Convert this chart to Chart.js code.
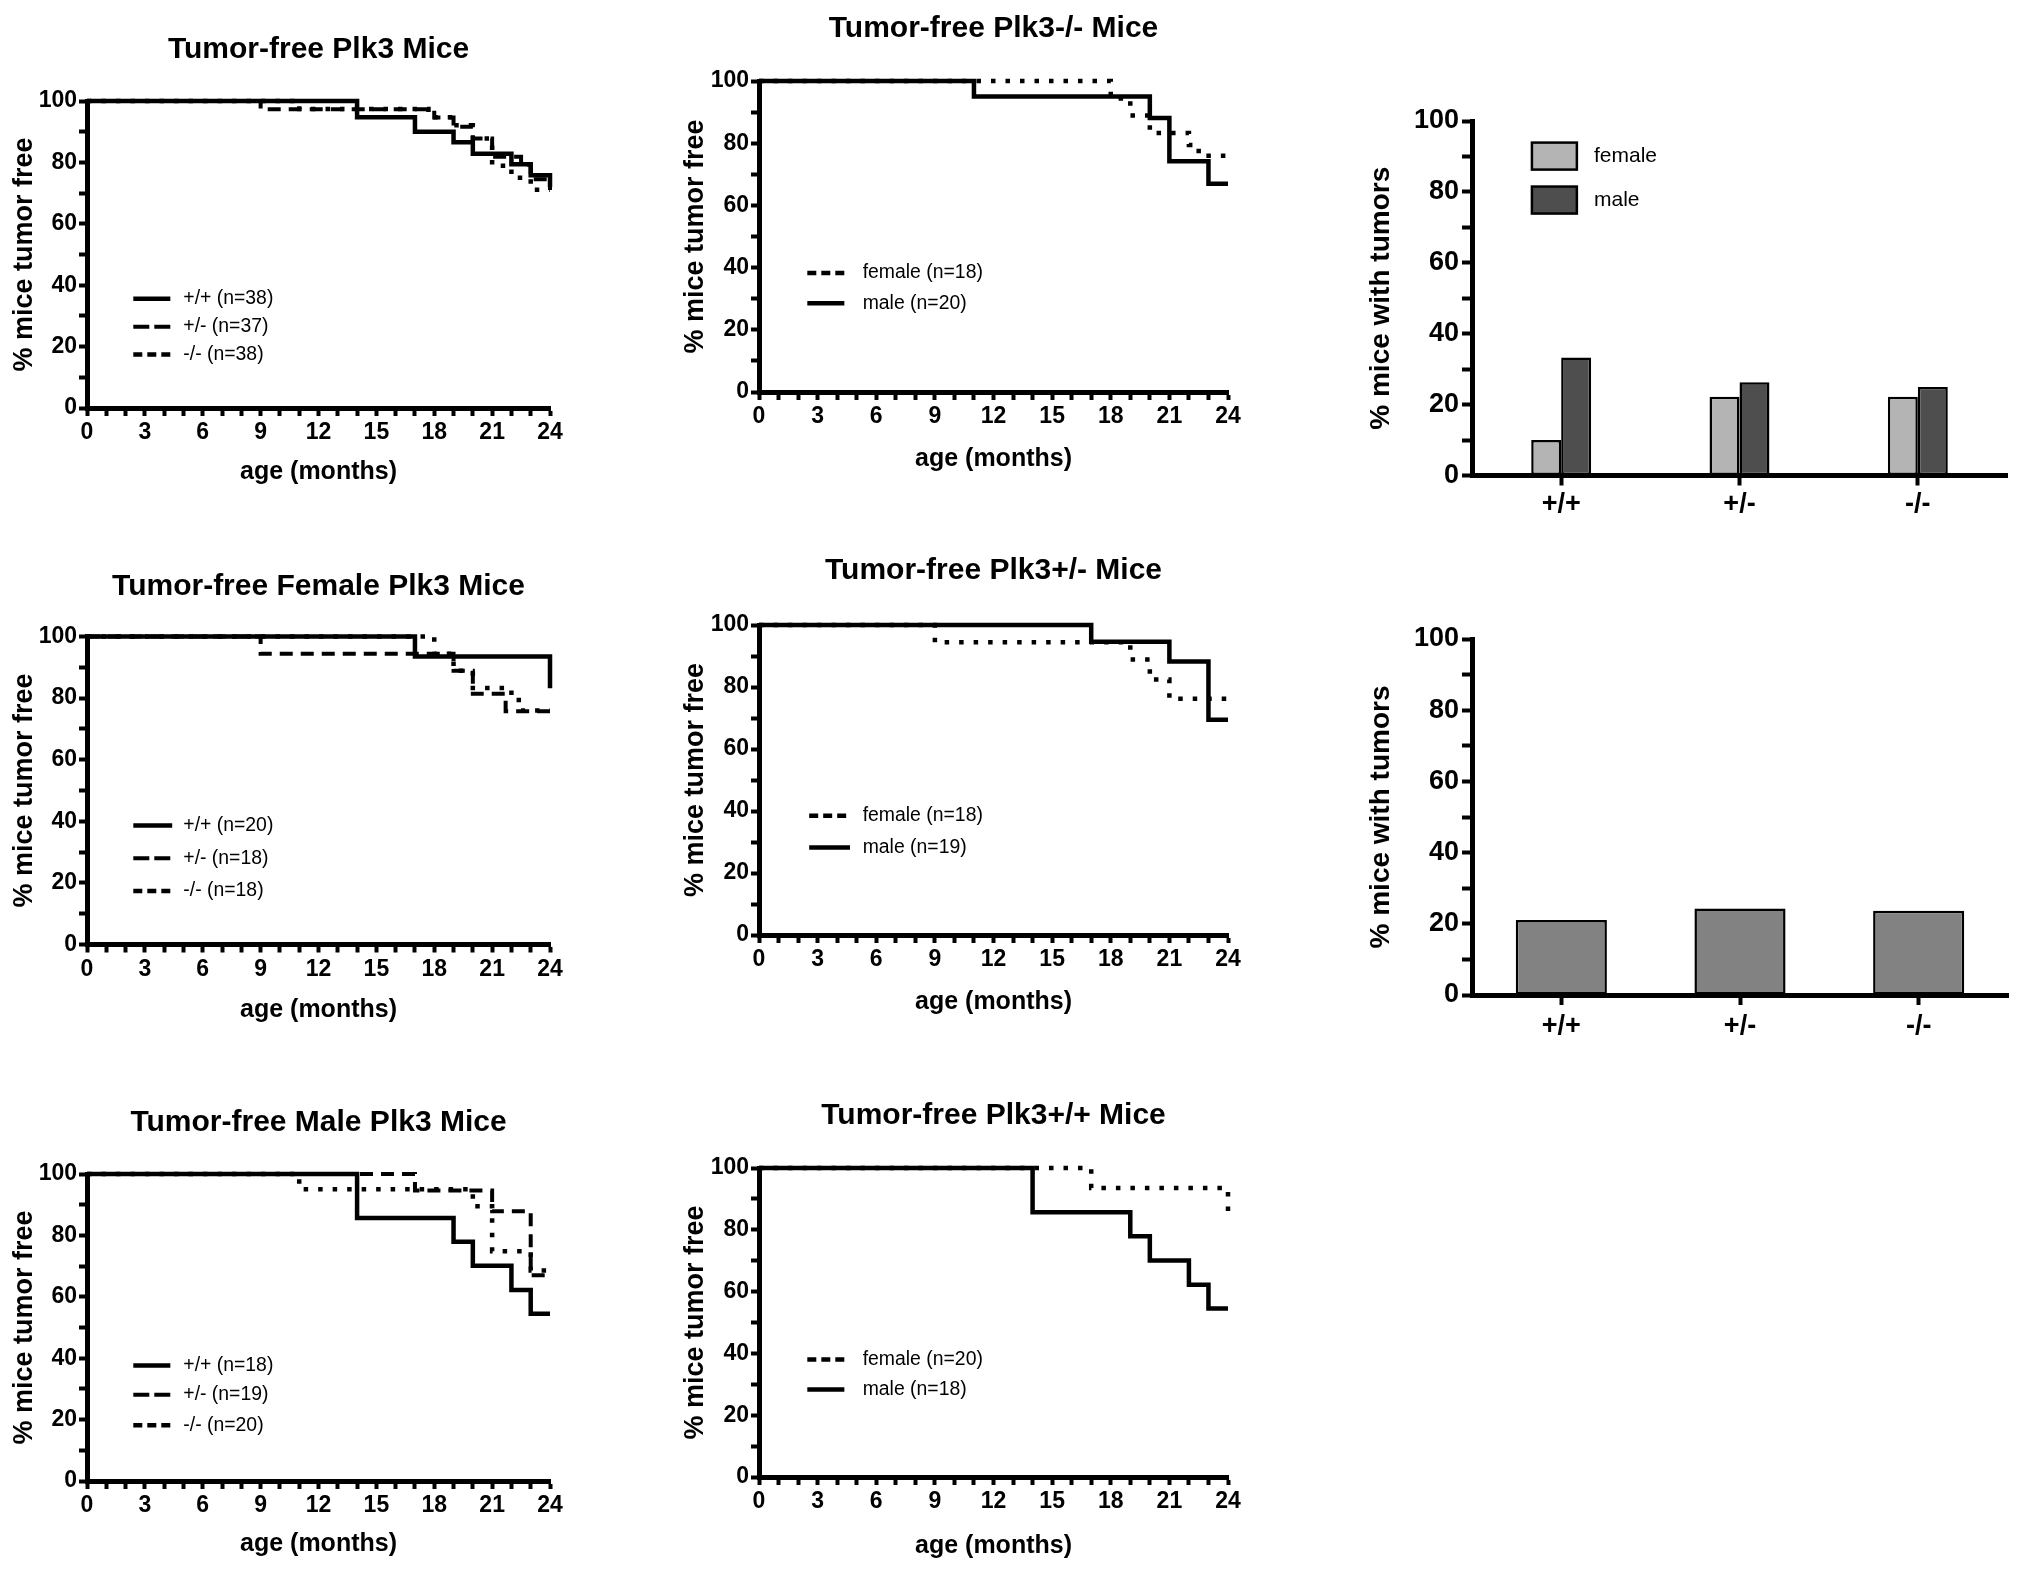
<!DOCTYPE html>
<html>
<head>
<meta charset="utf-8">
<title>Tumor-free Plk3 Mice</title>
<script src="https://cdn.jsdelivr.net/npm/chart.js@4.4.1/dist/chart.umd.min.js"></script>
<style>
  html, body { margin: 0; padding: 0; background: #ffffff; }
  body { width: 2028px; height: 1571px; position: relative; overflow: hidden; }
  canvas { position: absolute; }
</style>
</head>
<body>
<script>
// ---------------- DATA ----------------
// Survival (Kaplan-Meier) steps: event months and % tumor free after the event
// Tumor-free Plk3 Mice (all)
const allWtMonths   = [0, 14, 17, 19, 20, 22, 23, 24];
const allWtPct      = [100, 94.7, 90.0, 86.6, 82.8, 79.4, 75.8, 72.0];
const allHetMonths  = [0, 9, 18, 19, 20, 21, 22.5, 23, 24];
const allHetPct     = [100, 97.3, 94.6, 91.6, 87.8, 81.8, 79.2, 74.5, 71.0];
const allKoMonths   = [0, 11, 17.7, 19, 20, 21, 22, 23, 24];
const allKoPct      = [100, 97.4, 94.7, 92.1, 87.8, 78.9, 75.0, 71.1, 71.1];

// Tumor-free Plk3-/- Mice
const koFemaleMonths = [0, 18, 19, 20, 22, 22.5, 24];
const koFemalePct    = [100, 94.4, 88.9, 83.3, 79.4, 76.0, 76.0];
const koMaleMonths   = [0, 11, 20, 21, 23, 24];
const koMalePct      = [100, 95.0, 88.1, 74.2, 67.0, 67.0];

// Tumor-free Female Plk3 Mice
const femWtMonths  = [0, 17, 24];
const femWtPct     = [100, 93.5, 83.2];
const femHetMonths = [0, 9, 19, 20, 21.7, 24];
const femHetPct    = [100, 94.4, 88.9, 81.4, 75.7, 75.7];
const femKoMonths  = [0, 18, 19, 20, 22, 22.5, 24];
const femKoPct     = [100, 94.4, 88.9, 83.3, 79.4, 76.0, 76.0];

// Tumor-free Plk3+/- Mice
const hetFemaleMonths = [0, 9, 19, 20, 21, 24];
const hetFemalePct    = [100, 94.4, 88.9, 82.4, 76.2, 76.2];
const hetMaleMonths   = [0, 17, 21, 23, 24];
const hetMalePct      = [100, 94.6, 88.2, 69.4, 69.4];

// Tumor-free Male Plk3 Mice
const maleWtMonths  = [0, 14, 19, 20, 22, 23, 24];
const maleWtPct     = [100, 85.7, 77.9, 70.1, 62.2, 54.5, 54.5];
const maleHetMonths = [0, 17, 21, 23, 24];
const maleHetPct    = [100, 94.6, 87.9, 67.0, 67.0];
const maleKoMonths  = [0, 11, 20, 21, 23, 24];
const maleKoPct     = [100, 95.0, 89.5, 74.8, 68.6, 68.6];

// Tumor-free Plk3+/+ Mice
const wtFemaleMonths = [0, 17, 24];
const wtFemalePct    = [100, 93.5, 83.2];
const wtMaleMonths   = [0, 14, 19, 20, 22, 23, 24];
const wtMalePct      = [100, 85.7, 77.9, 70.1, 62.2, 54.5, 54.5];

// Bar charts: % mice with tumors
const genotypes         = ['+/+', '+/-', '-/-'];
const femaleTumorPct    = [10.0, 22.2, 22.2];
const maleTumorPct      = [33.3, 26.3, 25.0];
const allTumorPct       = [21.1, 24.3, 23.7];

// Axis labels / texts
const monthTickEvery = 3;
const pctTickEvery   = 20;
const xTitle  = 'age (months)';
const yTitleKM  = '% mice tumor free';
const yTitleBar = '% mice with tumors';

// ---------------- STYLE ----------------
const F = '"Liberation Sans", Arial, Helvetica, sans-serif';
Chart.defaults.font.family = F;
Chart.defaults.color = '#000';

const LINE = {
  solid:  { borderDash: [],        borderWidth: 4.5, legendDash: [] },
  dashed: { borderDash: [13, 8],   borderWidth: 4,   legendDash: [16, 5] },
  dotted: { borderDash: [4.5, 10], borderWidth: 4.5, legendDash: [9, 5] }
};

function toPoints(months, pct) { return months.map((m, i) => ({ x: m, y: pct[i] })); }

function kmSet(label, months, pct, style) {
  const s = LINE[style];
  return {
    label, data: toPoints(months, pct), stepped: 'before',
    borderColor: '#000', backgroundColor: '#000',
    borderWidth: s.borderWidth, borderDash: s.borderDash, legendDash: s.legendDash,
    borderCapStyle: 'butt', borderJoinStyle: 'miter',
    pointRadius: 0, pointHoverRadius: 0, fill: false, clip: false, tension: 0
  };
}

// in-plot legend drawn from the datasets
const inLegend = {
  id: 'inLegend',
  afterDatasetsDraw(chart, args, o) {
    if (!o || !o.rows) return;
    const ctx = chart.ctx, a = chart.chartArea, ys = chart.scales.y;
    ctx.save();
    chart.data.datasets.forEach((ds, i) => {
      const y = ys.getPixelForValue(o.rows[i]);
      const x0 = a.left + o.x0 * a.width, x1 = a.left + o.x1 * a.width, tx = a.left + o.tx * a.width;
      if (o.kind === 'box') {
        const h = o.boxH;
        ctx.fillStyle = ds.backgroundColor;
        ctx.fillRect(x0, y - h / 2, x1 - x0, h);
        ctx.lineWidth = ds.borderWidth; ctx.strokeStyle = '#000'; ctx.setLineDash([]);
        ctx.strokeRect(x0, y - h / 2, x1 - x0, h);
      } else {
        ctx.beginPath();
        ctx.setLineDash(ds.legendDash || []);
        ctx.lineWidth = ds.borderWidth; ctx.strokeStyle = '#000'; ctx.lineCap = 'butt';
        ctx.moveTo(x0, y); ctx.lineTo(x1, y); ctx.stroke();
        ctx.setLineDash([]);
      }
      ctx.fillStyle = '#000';
      ctx.font = o.fontSize + 'px ' + F;
      ctx.textBaseline = 'middle'; ctx.textAlign = 'left';
      ctx.save(); ctx.translate(tx, y); ctx.scale(o.sx || 1, 1); ctx.fillText(ds.label, 0, 0); ctx.restore();
    });
    ctx.restore();
  }
};
Chart.register(inLegend);

function makeCanvas(box) {
  const c = document.createElement('canvas');
  c.width = box.w; c.height = box.h;
  c.style.left = box.x + 'px'; c.style.top = box.y + 'px';
  c.style.width = box.w + 'px'; c.style.height = box.h + 'px';
  document.body.appendChild(c);
  return c;
}

const SZ = { title: 30, xTitle: 25, yTitle: 27, tick: 23, legend: 20 };
const AXW = 5, TKW = 4;

function kmChart(box, fr, title, datasets, legend) {
  const c = makeCanvas(box);
  const lhT = SZ.title * 1.2, lhX = SZ.xTitle * 1.2, lhY = SZ.yTitle * 1.2;
  const tTop = fr.ty - box.y - lhT / 2;
  const tBot = fr.T - box.y - tTop - lhT;
  const xH = box.y + box.h - fr.B;
  const yW = fr.L - box.x;
  return new Chart(c, {
    type: 'line',
    data: { datasets },
    options: {
      responsive: false, animation: false, events: [],
      layout: { padding: { left: 0, top: 0, bottom: 0, right: box.x + box.w - fr.R } },
      plugins: {
        legend: { display: false }, tooltip: { enabled: false },
        title: { display: true, text: title, fullSize: false, color: '#000',
                 font: { size: SZ.title, weight: 'bold' }, padding: { top: tTop, bottom: tBot } },
        inLegend: Object.assign({ fontSize: SZ.legend, sx: 0.97 }, legend)
      },
      scales: {
        x: {
          type: 'linear', min: 0, max: 24,
          afterFit: s => { s.height = xH; },
          ticks: { stepSize: 1, autoSkip: false, maxRotation: 0, maxTicksLimit: 100, padding: 3, color: '#000',
                   font: { size: SZ.tick, weight: 'bold' },
                   callback: v => (v % monthTickEvery === 0 ? String(v) : '') },
          grid: { display: true, drawOnChartArea: false, drawTicks: true, tickLength: 8, tickWidth: TKW, tickColor: '#000' },
          border: { display: true, width: AXW, color: '#000' },
          title: { display: true, text: xTitle, color: '#000', font: { size: SZ.xTitle, weight: 'bold' },
                   padding: { top: 0, bottom: box.y + box.h - fr.xty - lhX / 2 } }
        },
        y: {
          type: 'linear', min: 0, max: 100,
          afterFit: s => { s.width = yW; },
          ticks: { stepSize: 10, autoSkip: false, maxTicksLimit: 100, padding: 2, color: '#000',
                   font: { size: SZ.tick, weight: 'bold' },
                   callback: v => (v % pctTickEvery === 0 ? String(v) : '') },
          grid: { display: true, drawOnChartArea: false, drawTicks: true, tickLength: 8, tickWidth: TKW, tickColor: '#000' },
          border: { display: true, width: AXW, color: '#000' },
          title: { display: true, text: yTitleKM, color: '#000', font: { size: SZ.yTitle, weight: 'bold' },
                   padding: { top: fr.ytx - box.x - lhY / 2, bottom: 0 } }
        }
      }
    }
  });
}

function barChart(box, fr, datasets, legend) {
  const c = makeCanvas(box);
  const lhA = 28 * 1.2;
  const xH = box.y + box.h - fr.B;
  const yW = fr.L - box.x;
  return new Chart(c, {
    type: 'bar',
    data: { labels: genotypes, datasets },
    options: {
      responsive: false, animation: false, events: [],
      layout: { padding: { left: 0, top: fr.T - box.y, bottom: 0, right: box.x + box.w - fr.R } },
      plugins: {
        legend: { display: false }, tooltip: { enabled: false },
        inLegend: legend ? Object.assign({ fontSize: 21, sx: 1 }, legend) : {}
      },
      scales: {
        x: {
          type: 'category', offset: true,
          afterFit: s => { s.height = xH; },
          ticks: { padding: fr.tickPad, color: '#000', font: { size: 27, weight: 'bold' }, maxRotation: 0 },
          grid: { display: true, offset: false, drawOnChartArea: false, drawTicks: true, tickLength: 10, tickWidth: TKW, tickColor: '#000' },
          border: { display: true, width: AXW, color: '#000' }
        },
        y: {
          type: 'linear', min: 0, max: 100,
          afterFit: s => { s.width = yW; },
          ticks: { stepSize: 10, autoSkip: false, maxTicksLimit: 100, padding: 3, color: '#000',
                   font: { size: 27, weight: 'bold' },
                   callback: v => (v % pctTickEvery === 0 ? String(v) : '') },
          grid: { display: true, drawOnChartArea: false, drawTicks: true, tickLength: 10, tickWidth: TKW, tickColor: '#000' },
          border: { display: true, width: AXW, color: '#000' },
          title: { display: true, text: yTitleBar, color: '#000', font: { size: 28, weight: 'bold' },
                   padding: { top: fr.ytx - box.x - lhA / 2, bottom: 0 } }
        }
      }
    }
  });
}

// ---------------- PANELS ----------------
kmChart({ x: 0, y: 0, w: 650, h: 500 },
  { L: 87, T: 101, R: 550, B: 408, ty: 50, xty: 472, ytx: 25 },
  'Tumor-free Plk3 Mice',
  [ kmSet('+/+ (n=38)', allWtMonths, allWtPct, 'solid'),
    kmSet('+/- (n=37)', allHetMonths, allHetPct, 'dashed'),
    kmSet('-/- (n=38)', allKoMonths, allKoPct, 'dotted') ],
  { rows: [35.6, 26.5, 17.4], x0: 0.10, x1: 0.18, tx: 0.208 });

kmChart({ x: 650, y: 0, w: 640, h: 490 },
  { L: 759, T: 81, R: 1228, B: 392, ty: 29, xty: 459, ytx: 696 },
  'Tumor-free Plk3-/- Mice',
  [ kmSet('female (n=18)', koFemaleMonths, koFemalePct, 'dotted'),
    kmSet('male (n=20)', koMaleMonths, koMalePct, 'solid') ],
  { rows: [38.3, 28.5], x0: 0.103, x1: 0.182, tx: 0.221 });

kmChart({ x: 0, y: 540, w: 650, h: 500 },
  { L: 87, T: 636.5, R: 550, B: 944.5, ty: 587, xty: 1010, ytx: 25 },
  'Tumor-free Female Plk3 Mice',
  [ kmSet('+/+ (n=20)', femWtMonths, femWtPct, 'solid'),
    kmSet('+/- (n=18)', femHetMonths, femHetPct, 'dashed'),
    kmSet('-/- (n=18)', femKoMonths, femKoPct, 'dotted') ],
  { rows: [38.6, 28.0, 17.4], x0: 0.10, x1: 0.184, tx: 0.208 });

kmChart({ x: 650, y: 530, w: 640, h: 500 },
  { L: 759, T: 625, R: 1228, B: 935, ty: 571, xty: 1002, ytx: 696 },
  'Tumor-free Plk3+/- Mice',
  [ kmSet('female (n=18)', hetFemaleMonths, hetFemalePct, 'dotted'),
    kmSet('male (n=19)', hetMaleMonths, hetMalePct, 'solid') ],
  { rows: [38.5, 28.2], x0: 0.107, x1: 0.194, tx: 0.221 });

kmChart({ x: 0, y: 1070, w: 650, h: 501 },
  { L: 87, T: 1174, R: 550, B: 1481, ty: 1123, xty: 1544, ytx: 25 },
  'Tumor-free Male Plk3 Mice',
  [ kmSet('+/+ (n=18)', maleWtMonths, maleWtPct, 'solid'),
    kmSet('+/- (n=19)', maleHetMonths, maleHetPct, 'dashed'),
    kmSet('-/- (n=20)', maleKoMonths, maleKoPct, 'dotted') ],
  { rows: [37.6, 28.1, 18.2], x0: 0.10, x1: 0.18, tx: 0.208 });

kmChart({ x: 650, y: 1070, w: 640, h: 501 },
  { L: 759, T: 1168, R: 1228, B: 1477, ty: 1116, xty: 1546, ytx: 696 },
  'Tumor-free Plk3+/+ Mice',
  [ kmSet('female (n=20)', wtFemaleMonths, wtFemalePct, 'dotted'),
    kmSet('male (n=18)', wtMaleMonths, wtMalePct, 'solid') ],
  { rows: [38.0, 28.3], x0: 0.103, x1: 0.182, tx: 0.221 });

barChart({ x: 1340, y: 90, w: 688, h: 450 },
  { L: 1472, T: 121, R: 2007, B: 475.5, ytx: 1381, tickPad: 3 },
  [ { label: 'female', data: femaleTumorPct, backgroundColor: '#b4b4b4', borderColor: '#000', borderWidth: 2.5,
      borderSkipped: false, categoryPercentage: 0.336, barPercentage: 1 },
    { label: 'male', data: maleTumorPct, backgroundColor: '#4e4e4e', borderColor: '#000', borderWidth: 2.5,
      borderSkipped: false, categoryPercentage: 0.336, barPercentage: 1 } ],
  { kind: 'box', rows: [90.1, 77.7], x0: 0.112, x1: 0.196, tx: 0.228, boxH: 27 });

barChart({ x: 1340, y: 600, w: 688, h: 450 },
  { L: 1472, T: 639, R: 2008, B: 995, ytx: 1381, tickPad: 5 },
  [ { label: 'all', data: allTumorPct, backgroundColor: '#828282', borderColor: '#000', borderWidth: 2.5,
      borderSkipped: false, categoryPercentage: 0.51, barPercentage: 1 } ],
  null);
</script>
</body>
</html>
